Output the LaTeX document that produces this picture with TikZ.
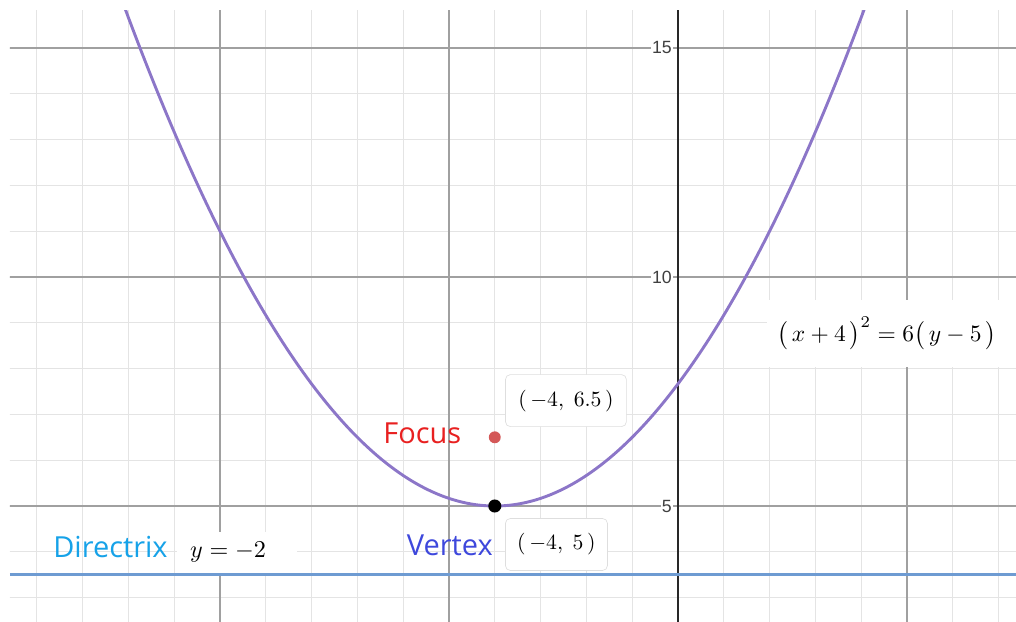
\documentclass[tikz,border=0pt]{standalone}
\usepackage{fontspec}
\usepackage{graphicx}
\newfontfamily\labelsans{Open Sans}
\newfontfamily\ticksans{Liberation Sans}
\usetikzlibrary{positioning}
\usepackage{xcolor}

\definecolor{gridminor}{RGB}{228,228,228}
\definecolor{gridmajor}{RGB}{160,160,160}
\definecolor{axisdark}{RGB}{40,40,40}
\definecolor{parabpurple}{RGB}{140,118,200}
\definecolor{dirblue}{RGB}{110,155,210}
\definecolor{focusdot}{RGB}{212,88,88}
\definecolor{focustxt}{RGB}{232,32,32}
\definecolor{vertextxt}{RGB}{62,72,220}
\definecolor{directrixtxt}{RGB}{22,162,232}

\begin{document}
\begin{tikzpicture}[
  minorline/.style={gridminor, line width=0.6pt},
  majorline/.style={gridmajor, line width=0.7pt},
  axisline/.style={axisdark, line width=1.2pt},
  parab/.style={parabpurple, line width=1.8pt},
  dirline/.style={dirblue, line width=1.8pt},
  ptdot/.style={circle, inner sep=0pt, minimum size=0.27cm},
  ticklbl/.style={font=\ticksans\fontsize{11}{13}\selectfont, text=black!75, fill=white, inner sep=0.5pt, anchor=east},
  ptlbl/.style={draw=black!13, fill=white, rounded corners=3pt, minimum height=1.135cm, inner xsep=2pt},
  word/.style={font=\labelsans\fontsize{18}{22}\selectfont, inner sep=0pt},
  mathbox/.style={fill=white, align=left},
]
\useasboundingbox (-14.803,2.489) rectangle (7.380,16.048);

% --- Grid and axis ---
\begin{scope}
  \clip (-14.585,2.489) rectangle (7.380,15.808);
  \foreach \x in {-14,...,7} \draw[minorline] (\x,2) -- (\x,16);
  \foreach \y in {3,...,15} \draw[minorline] (-15,\y) -- (8,\y);
  \foreach \x in {-10,-5,5} \draw[majorline] (\x,2) -- (\x,16);
  \foreach \y in {5,10,15} \draw[majorline] (-15,\y) -- (8,\y);
  \draw[axisline] (0,2) -- (0,16);
\end{scope}
\foreach \y in {5,10,15}{
  \node[ticklbl] (ytick\y) at (-0.11,\y) {\y};
}

% --- Label boxes on the grid ---
\node[mathbox, anchor=west, inner xsep=0.284cm, text width=2.05cm, minimum height=0.895cm] (dirlbl) at (-10.94,3.985) {\scalebox{1.5}{$y=-2$}};
\node[mathbox, anchor=west, inner xsep=0.218cm, text width=5.3cm, minimum height=1.463cm] (eqlbl) at (1.943,8.766) {\scalebox{1.46}{$\bigl(\,x+4\,\bigr)^{2}=6\bigl(\,y-5\,\bigr)$}};

% --- Directrix and parabola ---
\coordinate (dirL) at (-14.585,3.5);
\coordinate (dirR) at (7.380,3.5);
\draw[dirline] (dirL) -- (dirR);
\begin{scope}
  \clip (-14.585,2.489) rectangle (7.380,15.808);
  \draw[parab] plot[domain=-12.2:4.2, samples=150, smooth] (\x,{5+(\x+4)^2/6});
\end{scope}

% --- Focus and vertex ---
\node[ptdot, fill=focusdot, minimum size=0.26cm] (focus) at (-4,6.5) {};
\node[ptdot, fill=black, minimum size=0.285cm] (vertex) at (-4,5) {};
\node[ptlbl, minimum width=2.64cm, above right=0.13cm and 0.13cm of focus] (focuslbl) {\scalebox{1.35}{$(\,-4,\;6.5\,)$}};
\node[ptlbl, minimum width=2.227cm, below right=0.16cm and 0.12cm of vertex] (vertexlbl) {\scalebox{1.35}{$(\,-4,\;5\,)$}};

% --- Words ---
\node[word, text=focustxt, anchor=east] (focustext) at (-4.727,6.583) {Focus};
\node[word, text=vertextxt, left=0.263cm of vertexlbl.west, yshift=-0.01cm] (vertextext) {Vertex};
\node[word, text=directrixtxt, anchor=west] (dirtext) at (-13.646,4.094) {Directrix};
\end{tikzpicture}
\end{document}
